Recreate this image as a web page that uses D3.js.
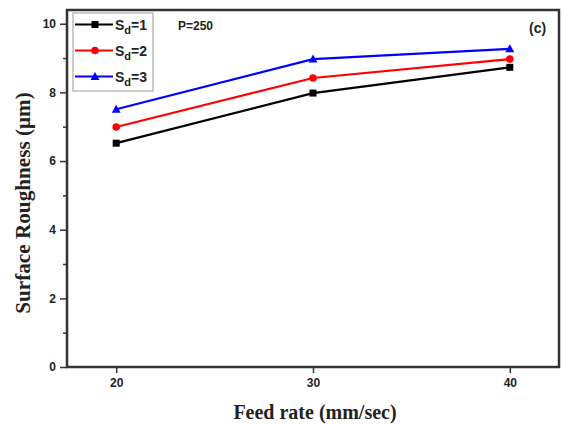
<!DOCTYPE html>
<html>
<head>
<meta charset="utf-8">
<script src="https://cdn.jsdelivr.net/npm/d3@7"></script>
<style>
  body { margin: 0; background: #fff; }
  .tick text { font-family: "Liberation Sans", Arial, sans-serif; font-weight: bold; font-size: 12px; fill: #222; }
</style>
</head>
<body>
<svg id="chart" width="562" height="425"></svg>
<script>
//----------------
// Data
//----------------
const feedRates = [20, 30, 40];
const sd1 = [6.52, 7.98, 8.73];
const sd2 = [6.99, 8.42, 8.97];
const sd3 = [7.51, 8.97, 9.27];
const seriesNames = ["1", "2", "3"];
const seriesColors = ["#000000", "#ff0000", "#0000ff"];
const seriesMarkers = ["square", "circle", "triangle"];
const yMajorTicks = [0, 2, 4, 6, 8, 10];
const yMinorTicks = [1, 3, 5, 7, 9];

//----------------
// Layout
//----------------
const plot = {left: 67, right: 559, top: 10, bottom: 367};
const frameColor = "#333";

const svg = d3.select("#chart");

const x = d3.scaleLinear().domain([17.5, 42.5]).range([plot.left, plot.right]);
const y = d3.scaleLinear().domain([0, 10.4]).range([plot.bottom, plot.top]);

function drawMarker(g, type, cx, cy, color) {
  if (type == "square") {
    g.append("rect").attr("x", cx - 3.5).attr("y", cy - 3.5)
      .attr("width", 7).attr("height", 7).attr("fill", color);
  } else if (type == "circle") {
    g.append("circle").attr("cx", cx).attr("cy", cy).attr("r", 3.8).attr("fill", color);
  } else {
    g.append("path").attr("fill", color)
      .attr("d", "M" + cx + "," + (cy - 4.5) + "L" + (cx + 4.5) + "," + (cy + 3.5) + "L" + (cx - 4.5) + "," + (cy + 3.5) + "Z");
  }
}

// minor y ticks
svg.append("g")
  .attr("transform", "translate(" + plot.left + ",0)")
  .call(d3.axisLeft(y).tickValues(yMinorTicks).tickSize(4).tickFormat(""))
  .call(g => g.select(".domain").remove())
  .call(g => g.selectAll("line").attr("stroke", frameColor).attr("stroke-width", 1.5));

// major y ticks
svg.append("g")
  .attr("transform", "translate(" + plot.left + ",0)")
  .call(d3.axisLeft(y).tickValues(yMajorTicks).tickSize(7).tickPadding(4))
  .call(g => g.select(".domain").remove())
  .call(g => g.selectAll("line").attr("stroke", frameColor).attr("stroke-width", 1.5));

// x ticks
svg.append("g")
  .attr("transform", "translate(0," + plot.bottom + ")")
  .call(d3.axisBottom(x).tickValues(feedRates).tickSize(6).tickPadding(5))
  .call(g => g.select(".domain").remove())
  .call(g => g.selectAll("line").attr("stroke", frameColor).attr("stroke-width", 1.5));

// frame
svg.append("rect")
  .attr("x", plot.left).attr("y", plot.top)
  .attr("width", plot.right - plot.left).attr("height", plot.bottom - plot.top)
  .attr("fill", "none").attr("stroke", frameColor).attr("stroke-width", 2.5);

// series
const allSeries = [sd1, sd2, sd3];
const line = d3.line().x((d, i) => x(feedRates[i])).y(d => y(d));

allSeries.forEach(function(vals, s) {
  const g = svg.append("g").attr("class", "serie");
  g.append("path").datum(vals)
    .attr("d", line)
    .attr("fill", "none")
    .attr("stroke", seriesColors[s])
    .attr("stroke-width", 2.2);
  vals.forEach(function(v, i) {
    drawMarker(g, seriesMarkers[s], x(feedRates[i]), y(v), seriesColors[s]);
  });
});

// legend
const legend = svg.append("g").attr("transform", "translate(73,13)");
legend.append("rect")
  .attr("width", 80).attr("height", 78)
  .attr("fill", "#fff").attr("stroke", "#999").attr("stroke-width", 1);

seriesNames.forEach(function(name, s) {
  const ly = 11.5 + s * 26;
  legend.append("line")
    .attr("x1", 2).attr("x2", 40).attr("y1", ly).attr("y2", ly)
    .attr("stroke", seriesColors[s]).attr("stroke-width", 2.2);
  drawMarker(legend, seriesMarkers[s], 22, ly, seriesColors[s]);
  const t = legend.append("text")
    .attr("x", 42).attr("y", ly + 5)
    .attr("font-family", "Liberation Sans, Arial, sans-serif")
    .attr("font-weight", "bold").attr("font-size", 14).attr("fill", "#222");
  t.append("tspan").text("S");
  t.append("tspan").attr("dy", 4).attr("font-size", 11).text("d");
  t.append("tspan").attr("dy", -4).text("=" + name);
});

// annotations
svg.append("text")
  .attr("x", 178).attr("y", 30)
  .attr("font-family", "Liberation Sans, Arial, sans-serif")
  .attr("font-weight", "bold").attr("font-size", 12).attr("fill", "#222")
  .text("P=250");

svg.append("text")
  .attr("x", 529).attr("y", 33)
  .attr("font-family", "Liberation Sans, Arial, sans-serif")
  .attr("font-weight", "bold").attr("font-size", 14).attr("fill", "#222")
  .text("(c)");

// axis titles
svg.append("text")
  .attr("x", 315).attr("y", 419)
  .attr("text-anchor", "middle")
  .attr("font-family", "Liberation Serif, Times New Roman, serif")
  .attr("font-weight", "bold").attr("font-size", 20).attr("fill", "#222")
  .text("Feed rate (mm/sec)");

svg.append("text")
  .attr("transform", "translate(30,203) rotate(-90) scale(1.06,1)")
  .attr("text-anchor", "middle")
  .attr("font-family", "Liberation Serif, Times New Roman, serif")
  .attr("font-weight", "bold").attr("font-size", 20).attr("fill", "#222")
  .text("Surface Roughness (\u03bcm)");
</script>
</body>
</html>
